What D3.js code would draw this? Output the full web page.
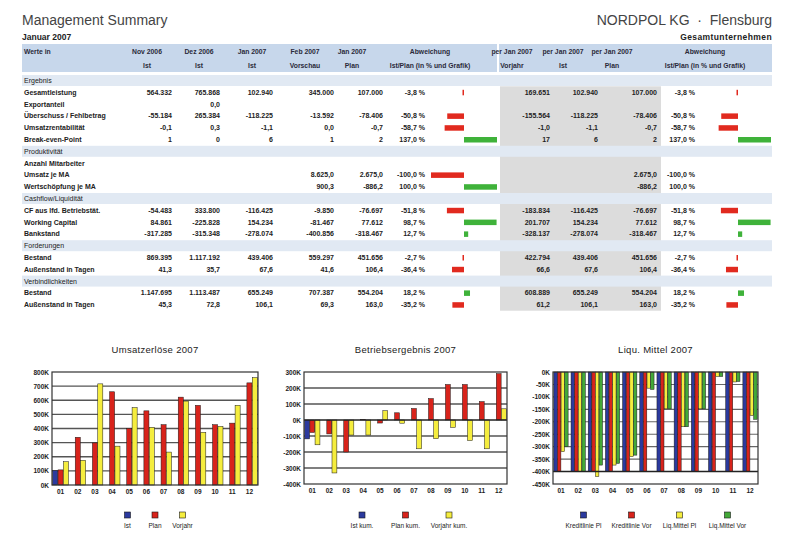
<!DOCTYPE html>
<html>
<head>
<meta charset="utf-8">
<script src="https://cdn.jsdelivr.net/npm/d3@7/dist/d3.min.js"></script>
<style>
  body { margin: 0; background: #fff; }
  svg text { font-family: "Liberation Sans", Arial, sans-serif; }
</style>
</head>
<body>
<svg id="page" width="789" height="547"></svg>
<script>
// ---- table data ----
var rowLabels = ["Ergebnis", "Gesamtleistung", "Exportanteil", "Überschuss / Fehlbetrag", "Umsatzrentabilität",
  "Break-even-Point", "Produktivität", "Anzahl Mitarbeiter", "Umsatz je MA", "Wertschöpfung je MA",
  "Cashflow/Liquidität", "CF aus lfd. Betriebstät.", "Working Capital", "Bankstand", "Forderungen",
  "Bestand", "Außenstand in Tagen", "Verbindlichkeiten", "Bestand", "Außenstand in Tagen"];
var sectionRows = ["Ergebnis", "Produktivität", "Cashflow/Liquidität", "Forderungen", "Verbindlichkeiten"];

var headTop = ["Nov 2006", "Dez 2006", "Jan 2007", "Feb 2007", "Jan 2007"];
var headSub = ["Ist", "Ist", "Ist", "Vorschau", "Plan"];
var headTopRight = ["per Jan 2007", "per Jan 2007", "per Jan 2007"];
var headSubRight = ["Vorjahr", "Ist", "Plan"];

var nov2006Ist = ["", "564.332", "", "-55.184", "-0,1", "1", "", "", "", "", "", "-54.483", "84.861", "-317.285", "", "869.395", "41,3", "", "1.147.695", "45,3"];
var dez2006Ist = ["", "765.868", "0,0", "265.384", "0,3", "0", "", "", "", "", "", "333.800", "-225.828", "-315.348", "", "1.117.192", "35,7", "", "1.113.487", "72,8"];
var jan2007Ist = ["", "102.940", "", "-118.225", "-1,1", "6", "", "", "", "", "", "-116.425", "154.234", "-278.074", "", "439.406", "67,6", "", "655.249", "106,1"];
var feb2007Vorschau = ["", "345.000", "", "-13.592", "0,0", "1", "", "", "8.625,0", "900,3", "", "-9.850", "-81.467", "-400.856", "", "559.297", "41,6", "", "707.387", "69,3"];
var jan2007Plan = ["", "107.000", "", "-78.406", "-0,7", "2", "", "", "2.675,0", "-886,2", "", "-76.697", "77.612", "-318.467", "", "451.656", "106,4", "", "554.204", "163,0"];
var devMonth = [null, -3.8, null, -50.8, -58.7, 137.0, null, null, -100.0, 100.0, null, -51.8, 98.7, 12.7, null, -2.7, -36.4, null, 18.2, -35.2];

var kumVorjahr = ["", "169.651", "", "-155.564", "-1,0", "17", "", "", "", "", "", "-183.834", "201.707", "-328.137", "", "422.794", "66,6", "", "608.889", "61,2"];
var kumIst = ["", "102.940", "", "-118.225", "-1,1", "6", "", "", "", "", "", "-116.425", "154.234", "-278.074", "", "439.406", "67,6", "", "655.249", "106,1"];
var kumPlan = ["", "107.000", "", "-78.406", "-0,7", "2", "", "", "2.675,0", "-886,2", "", "-76.697", "77.612", "-318.467", "", "451.656", "106,4", "", "554.204", "163,0"];
var devKum = [null, -3.8, null, -50.8, -58.7, 137.0, null, null, -100.0, 100.0, null, -51.8, 98.7, 12.7, null, -2.7, -36.4, null, 18.2, -35.2];
var devKumBar = [null, -3.8, null, -50.8, -58.7, 137.0, null, null, null, null, null, -51.8, 98.7, 12.7, null, -2.7, -36.4, null, 18.2, -35.2];

// ---- chart data (in T€) ----
var months = ["01", "02", "03", "04", "05", "06", "07", "08", "09", "10", "11", "12"];

var umsatzIst = [103, null, null, null, null, null, null, null, null, null, null, null];
var umsatzPlan = [107, 338, 298, 660, 401, 525, 427, 622, 564, 427, 438, 723];
var umsatzVorjahr = [165, 175, 716, 275, 548, 408, 233, 594, 373, 415, 564, 760];

var ergIstKum = [-118, null, null, null, null, null, null, null, null, null, null, null];
var ergPlanKum = [-78, -87, -200, 3, -19, 45, 72, 134, 222, 222, 115, 290];
var ergVorjahrKum = [-155, -331, -94, -94, 58, -20, -180, -117, -46, -128, -180, 70];

var kreditliniePl = [-400, -400, -400, -400, -400, -400, -400, -400, -400, -400, -400, -400];
var kreditlinieVor = [-400, -400, -400, -400, -400, -400, -400, -400, -400, -400, -400, -400];
var liqMittelPl = [-320, -400, -420, -374, -340, -65, -148, -220, -148, -18, -40, -175];
var liqMittelVor = [-300, -400, -374, -367, -334, -70, -148, -220, -148, -18, -38, -190];

var BLUE = "#2b3a9e", RED = "#d8231b", YELLOW = "#f5ed3e", GREEN = "#43a838";

var svg = d3.select("#page");
var ink = "#222";

// ---- page header ----
svg.append("text").attr("x", 22).attr("y", 25).attr("font-size", 14).attr("fill", "#444").text("Management Summary");
svg.append("text").attr("x", 22).attr("y", 40).attr("font-size", 8.5).attr("font-weight", "bold").attr("fill", ink).text("Januar 2007");
svg.append("text").attr("x", 772).attr("y", 25).attr("font-size", 14).attr("fill", "#444").attr("text-anchor", "end")
  .attr("xml:space", "preserve").text("NORDPOL KG  ·  Flensburg");
svg.append("text").attr("x", 772).attr("y", 40).attr("font-size", 8.5).attr("font-weight", "bold").attr("fill", ink)
  .attr("text-anchor", "end").attr("letter-spacing", 0.4).text("Gesamtunternehmen");

// ---- table ----
var rowY = function(i){ return 80.5 + i * 11.8; };
var pct = d3.formatLocale({decimal: ",", thousands: ".", grouping: [3], currency: ["", " €"], minus: "-"}).format(".1f");
var barLen = d3.scaleLinear().domain([0, 100]).range([0, 33]).clamp(true);

// header bands
svg.append("rect").attr("x", 22).attr("y", 44).attr("width", 475).attr("height", 28).attr("fill", "#c7d7eb");
svg.append("rect").attr("x", 499).attr("y", 44).attr("width", 273).attr("height", 28).attr("fill", "#c7d7eb");

// gray block behind the cumulated values
svg.append("rect").attr("x", 500).attr("y", rowY(1) - 6).attr("width", 161).attr("height", rowY(19) - rowY(1) + 12).attr("fill", "#dcdcdc");

// section bands
rowLabels.forEach(function(l, i){
  if (sectionRows.indexOf(l) < 0) return;
  svg.append("rect").attr("x", 22).attr("y", rowY(i) - 5.5).attr("width", 750).attr("height", 11).attr("fill", "#e1e9f3");
});

var hdr = svg.append("g").attr("font-size", 6.8).attr("font-weight", "bold").attr("fill", "#2a2a3a").attr("text-anchor", "middle");
hdr.append("text").attr("x", 24).attr("y", 54).attr("text-anchor", "start").text("Werte in");
var headX = [147, 199, 252, 305, 352];
headTop.forEach(function(t, i){
  hdr.append("text").attr("x", headX[i]).attr("y", 54).text(t);
  hdr.append("text").attr("x", headX[i]).attr("y", 68).text(headSub[i]);
});
hdr.append("text").attr("x", 430).attr("y", 54).text("Abweichung");
hdr.append("text").attr("x", 430).attr("y", 68).text("Ist/Plan (in % und Grafik)");
var headXR = [512, 563, 612];
headTopRight.forEach(function(t, i){
  hdr.append("text").attr("x", headXR[i]).attr("y", 54).text(t);
  hdr.append("text").attr("x", headXR[i]).attr("y", 68).text(headSubRight[i]);
});
hdr.append("text").attr("x", 705).attr("y", 54).text("Abweichung");
hdr.append("text").attr("x", 705).attr("y", 68).text("Ist/Plan (in % und Grafik)");

var body = svg.append("g").attr("font-size", 7).attr("fill", ink);
rowLabels.forEach(function(l, i){
  var isSec = sectionRows.indexOf(l) >= 0;
  body.append("text").attr("x", 24).attr("y", rowY(i) + 2.5)
    .attr("font-weight", isSec ? "normal" : "bold").text(l);
});

var valueCols = [
  {vals: nov2006Ist, x: 172}, {vals: dez2006Ist, x: 220}, {vals: jan2007Ist, x: 273},
  {vals: feb2007Vorschau, x: 334}, {vals: jan2007Plan, x: 383},
  {vals: kumVorjahr, x: 550}, {vals: kumIst, x: 598}, {vals: kumPlan, x: 657}
];
valueCols.forEach(function(c){
  body.selectAll(null).data(c.vals).enter().append("text")
    .attr("x", c.x).attr("y", function(d, i){ return rowY(i) + 2.5; })
    .attr("text-anchor", "end").attr("font-weight", "bold").text(function(d){ return d; });
});

// percent text + deviation bar (capped at +/-100%)
function devColumn(vals, bars, textX, zeroX){
  vals.forEach(function(v, i){
    if (v === null) return;
    body.append("text").attr("x", textX).attr("y", rowY(i) + 2.5).attr("text-anchor", "end")
      .attr("font-weight", "bold").text(pct(v) + " %");
    var b = bars[i];
    if (b === null) return;
    var w = Math.max(1.5, barLen(Math.abs(b)));
    svg.append("rect").attr("x", b < 0 ? zeroX - w : zeroX).attr("y", rowY(i) - 2.5)
      .attr("width", w).attr("height", 5.5).attr("fill", b < 0 ? "#e12a1f" : "#3fb23a");
  });
}
devColumn(devMonth, devMonth, 425, 464);
devColumn(devKum, devKumBar, 695, 738);

// ---- charts ----
function drawChart(cfg){
  var g = svg.append("g");
  var x = d3.scaleBand().domain(months).range([cfg.left, cfg.right]).paddingInner(cfg.padIn).paddingOuter(cfg.padOut);
  var xs = d3.scaleBand().domain(d3.range(cfg.series.length)).range([0, x.bandwidth()]).paddingInner(0.06);
  var y = d3.scaleLinear().domain(cfg.domain).range([cfg.bottom, cfg.top]);

  g.append("rect").attr("x", cfg.left).attr("y", cfg.top).attr("width", cfg.right - cfg.left)
    .attr("height", cfg.bottom - cfg.top).attr("fill", "#fff");

  g.selectAll(".grid").data(cfg.grid).enter().append("line")
    .attr("x1", cfg.left).attr("x2", cfg.right)
    .attr("y1", function(d){ return y(d); }).attr("y2", function(d){ return y(d); })
    .attr("stroke", cfg.gridColor).attr("stroke-width", cfg.gridWidth);

  cfg.series.forEach(function(s, si){
    var pts = s.values.map(function(v, i){ return {m: months[i], v: v}; }).filter(function(d){ return d.v !== null; });
    g.selectAll(null).data(pts).enter().append("rect")
      .attr("x", function(d){ return x(d.m) + xs(si); })
      .attr("width", xs.bandwidth())
      .attr("y", function(d){ return y(Math.max(0, d.v)); })
      .attr("height", function(d){ return Math.abs(y(d.v) - y(0)); })
      .attr("fill", s.color).attr("stroke", "#1a1a1a").attr("stroke-width", 0.5);
  });

  if (cfg.heavy !== undefined) {
    g.append("line").attr("x1", cfg.left).attr("x2", cfg.right).attr("y1", y(cfg.heavy)).attr("y2", y(cfg.heavy))
      .attr("stroke", "#222").attr("stroke-width", 1.6);
  }
  g.append("rect").attr("x", cfg.left).attr("y", cfg.top).attr("width", cfg.right - cfg.left)
    .attr("height", cfg.bottom - cfg.top).attr("fill", "none").attr("stroke", "#333").attr("stroke-width", 1.2);

  var ya = g.append("g").attr("transform", "translate(" + cfg.left + ",0)")
    .call(d3.axisLeft(y).tickValues(cfg.ticks).tickSize(0).tickPadding(3).tickFormat(function(d){ return d + "K"; }));
  ya.select(".domain").remove();
  ya.selectAll("text").attr("font-size", 6.5).attr("font-weight", "bold").attr("fill", ink)
    .attr("font-family", "Liberation Sans, Arial, sans-serif");

  var xa = g.append("g").attr("transform", "translate(0," + cfg.bottom + ")")
    .call(d3.axisBottom(x).tickSize(0).tickPadding(4));
  xa.select(".domain").remove();
  xa.selectAll("text").attr("font-size", 6.5).attr("font-weight", "bold").attr("fill", ink)
    .attr("font-family", "Liberation Sans, Arial, sans-serif");

  var cx = (cfg.left + cfg.right) / 2;
  g.append("text").attr("x", cx).attr("y", 353).attr("text-anchor", "middle").attr("font-size", 9.5)
    .attr("letter-spacing", 0.3).attr("fill", ink).text(cfg.title);

  var n = cfg.series.length;
  cfg.series.forEach(function(s, i){
    var lx = cx + (i - (n - 1) / 2) * cfg.legendStep;
    g.append("rect").attr("x", lx - 3).attr("y", 512).attr("width", 6).attr("height", 6)
      .attr("fill", s.color).attr("stroke", "#1a1a1a").attr("stroke-width", 0.6);
    g.append("text").attr("x", lx).attr("y", 528).attr("text-anchor", "middle").attr("font-size", 6.5)
      .attr("fill", ink).text(s.name);
  });
}

drawChart({
  title: "Umsatzerlöse 2007", left: 52, right: 258, top: 372, bottom: 485,
  domain: [0, 800], ticks: [0, 100, 200, 300, 400, 500, 600, 700, 800], grid: [100, 200, 300, 400, 500, 600, 700],
  gridColor: "#555", gridWidth: 1.4, padIn: 0.08, padOut: 0.04, legendStep: 27.5,
  series: [
    {name: "Ist", values: umsatzIst, color: BLUE},
    {name: "Plan", values: umsatzPlan, color: RED},
    {name: "Vorjahr", values: umsatzVorjahr, color: YELLOW}
  ]
});

drawChart({
  title: "Betriebsergebnis 2007", left: 304, right: 507, top: 372, bottom: 484,
  domain: [-400, 300], ticks: [-400, -300, -200, -100, 0, 100, 200, 300], grid: [-300, -200, -100, 100, 200],
  gridColor: "#555", gridWidth: 1.4, heavy: 0, padIn: 0.1, padOut: 0.04, legendStep: 43.5,
  series: [
    {name: "Ist kum.", values: ergIstKum, color: BLUE},
    {name: "Plan kum.", values: ergPlanKum, color: RED},
    {name: "Vorjahr kum.", values: ergVorjahrKum, color: YELLOW}
  ]
});

drawChart({
  title: "Liqu. Mittel 2007", left: 553, right: 758, top: 372, bottom: 484,
  domain: [-450, 0], ticks: [-450, -400, -350, -300, -250, -200, -150, -100, -50, 0],
  grid: [-50, -100, -150, -200, -250, -300, -350],
  gridColor: "#666", gridWidth: 1.1, heavy: -400, padIn: 0.17, padOut: 0.05, legendStep: 48,
  series: [
    {name: "Kreditlinie Pl", values: kreditliniePl, color: BLUE},
    {name: "Kreditlinie Vor", values: kreditlinieVor, color: RED},
    {name: "Liq.Mittel Pl", values: liqMittelPl, color: YELLOW},
    {name: "Liq.Mittel Vor", values: liqMittelVor, color: GREEN}
  ]
});
</script>
</body>
</html>
